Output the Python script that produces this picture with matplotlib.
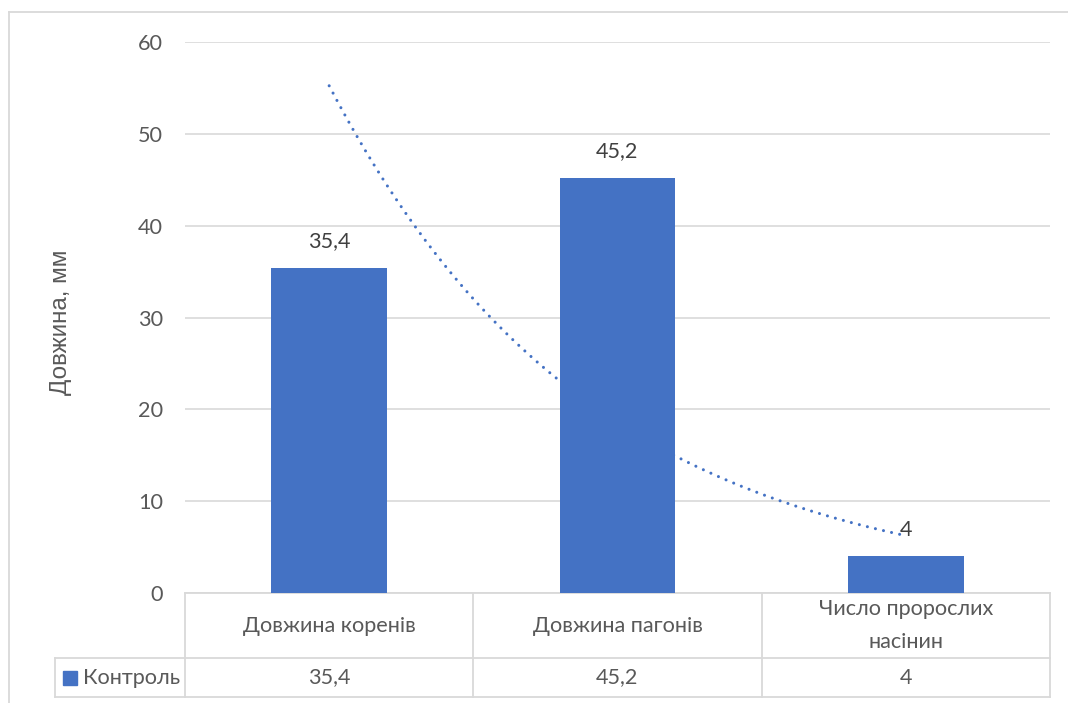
import numpy as np
import matplotlib
matplotlib.use('Agg')
import matplotlib.pyplot as plt
from matplotlib.patches import Rectangle
from matplotlib.lines import Line2D

plt.rcParams['font.family'] = ['Lato', 'DejaVu Sans']

categories = ['Довжина коренів', 'Довжина пагонів', 'Число пророслих\nнасінин']
series_name = 'Контроль'
values = [35.4, 45.2, 4]
value_labels = ['35,4', '45,2', '4']
y_ticks = [0, 10, 20, 30, 40, 50, 60]
y_label = 'Довжина, мм'

bar_color = '#4472C4'
text_color = '#595959'
grid_color = '#D9D9D9'
fs = 15.6

W, H = 1068, 703
fig = plt.figure(figsize=(W / 100, H / 100), dpi=100)
ax = fig.add_axes([185 / W, 1 - 593 / H, (1050 - 185) / W, (593 - 42) / H])

x = np.arange(len(categories))
ax.bar(x, values, width=0.4, color=bar_color, zorder=3)

# exponential trendline (least squares on log values, as in Excel)
pos = x + 1
b, a = np.polyfit(pos, np.log(values), 1)
xs = np.linspace(pos[0], pos[-1], 200)
ax.plot(xs - 1, np.exp(a + b * xs), color=bar_color, lw=2.2,
        linestyle=(0, (0.01, 2.7)), dash_capstyle='round', zorder=2)

for xi, v, lab in zip(x, values, value_labels):
    ax.annotate(lab, (xi, v), xytext=(0, 12), textcoords='offset points',
                ha='center', va='bottom', fontsize=fs, color='#404040', zorder=4)

ax.set_xlim(-0.5, len(categories) - 0.5)
ax.set_ylim(0, 60)
ax.set_yticks(y_ticks)
ax.set_yticklabels([str(t) for t in y_ticks])
ax.tick_params(axis='y', length=0, pad=15.8, labelsize=fs, labelcolor=text_color)
ax.set_xticks([])
for s in ax.spines.values():
    s.set_visible(False)
ax.yaxis.grid(True, color=grid_color, lw=1.2, zorder=0)
ax.set_axisbelow(True)
fig.text(61 / W, 1 - 322 / H, y_label, rotation=90, ha='center', va='center',
         fontsize=17.5, color=text_color, family='Liberation Sans')

# data table under the plot
tr = ax.get_xaxis_transform()
px = 1 / (593 - 42)
row1 = -(658 - 593) * px
row2 = -(697 - 593) * px
leg_left = -0.5 - 130 / 288.3
line_kw = dict(color=grid_color, lw=1.3, transform=tr, clip_on=False)

ax.add_line(Line2D([-0.5, 2.5], [0, 0], **line_kw))
ax.add_line(Line2D([leg_left, 2.5], [row1, row1], **line_kw))
ax.add_line(Line2D([leg_left, 2.5], [row2, row2], **line_kw))
ax.add_line(Line2D([leg_left, leg_left], [row1, row2], **line_kw))
for xb in np.arange(len(categories) + 1) - 0.5:
    ax.add_line(Line2D([xb, xb], [0, row2], **line_kw))

for xi, cat in zip(x, categories):
    ax.text(xi, row1 / 2, cat, transform=tr, ha='center', va='center',
            fontsize=fs, color=text_color, linespacing=1.8)
for xi, lab in zip(x, value_labels):
    ax.text(xi, (row1 + row2) / 2, lab, transform=tr, ha='center', va='center',
            fontsize=fs, color=text_color)

ax.add_patch(Rectangle((leg_left + 0.028, (row1 + row2) / 2 - 7 * px), 0.048, 14 * px,
                       transform=tr, clip_on=False, color=bar_color))
ax.text(leg_left + 0.097, (row1 + row2) / 2, series_name, transform=tr,
        ha='left', va='center', fontsize=fs, color=text_color)

# chart area border
fig.add_artist(Line2D([9 / W, 9 / W], [0, 1 - 12 / H], color=grid_color, lw=1.3,
                      transform=fig.transFigure))
fig.add_artist(Line2D([9 / W, 1], [1 - 12 / H, 1 - 12 / H], color=grid_color, lw=1.3,
                      transform=fig.transFigure))

fig.savefig('out.png', dpi=100, facecolor='white')
